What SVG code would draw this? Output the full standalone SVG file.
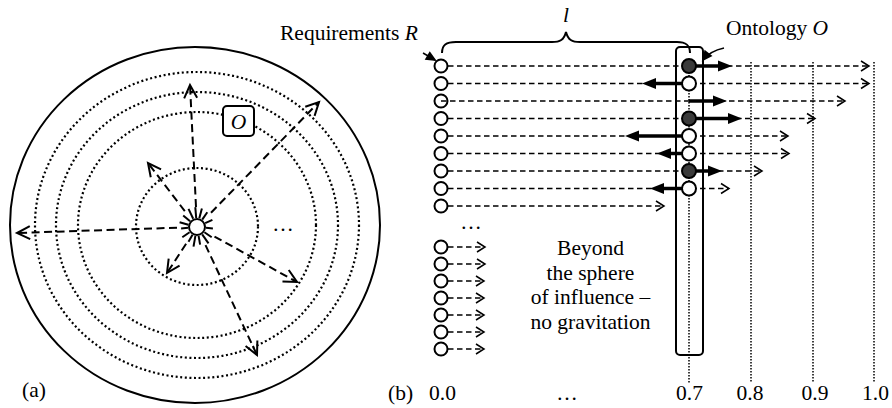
<svg xmlns="http://www.w3.org/2000/svg" width="892" height="408" viewBox="0 0 892 408" font-family="'Liberation Serif', 'Times New Roman', 'DejaVu Serif', serif">
  <style>
    text { font-family: "Liberation Serif", "Times New Roman", "DejaVu Serif", serif; font-size: 21.5px; fill: #000; }
    .it { font-style: italic; }
    .ring { fill: none; stroke: #000; stroke-width: 2.2; stroke-dasharray: 2 2.6; }
    .ray { fill: none; stroke: #000; stroke-width: 2; stroke-dasharray: 8 4.5; marker-end: url(#openL); }
    .burst line { stroke: #000; stroke-width: 2; }
    .req { fill: #fff; stroke: #000; stroke-width: 2; }
    .ont-full { fill: #3a3a3a; stroke: #000; stroke-width: 2; }
    .flow { fill: none; stroke: #000; stroke-width: 1.5; stroke-dasharray: 5.5 3.5; marker-end: url(#openS); }
    .pull { fill: none; stroke: #000; stroke-width: 3.5; marker-end: url(#solid); }
    .scale { fill: none; stroke: #000; stroke-width: 1.5; stroke-dasharray: 1.5 1.5; }
  </style>
  <defs>
    <marker id="openL" markerUnits="userSpaceOnUse" markerWidth="30" markerHeight="30" viewBox="-15 -15 30 30" refX="0" refY="0" orient="auto">
      <path d="M-13,-6.5 L0,0 L-13,6.5" fill="none" stroke="#000" stroke-width="2" stroke-dasharray="none"/>
    </marker>
    <marker id="openS" markerUnits="userSpaceOnUse" markerWidth="20" markerHeight="20" viewBox="-10 -10 20 20" refX="0" refY="0" orient="auto">
      <path d="M-8,-5 L0,0 L-8,5" fill="none" stroke="#000" stroke-width="1.5" stroke-dasharray="none"/>
    </marker>
    <marker id="solid" markerUnits="userSpaceOnUse" markerWidth="30" markerHeight="30" viewBox="-15 -15 30 30" refX="0" refY="0" orient="auto">
      <path d="M-6,-5.5 L8,0 L-6,5.5 Z" fill="#000" stroke="none"/>
    </marker>
    <marker id="tiny" markerUnits="userSpaceOnUse" markerWidth="24" markerHeight="24" viewBox="-12 -12 24 24" refX="0" refY="0" orient="auto">
      <path d="M-9,-5 L2,0 L-9,5 Z" fill="#000" stroke="none"/>
    </marker>
  </defs>

  <!-- (a) gravitation field around a requirement -->
  <g id="field">
    <ellipse cx="195" cy="225" rx="185" ry="178" fill="none" stroke="#000" stroke-width="2"/>
    <ellipse class="ring" cx="197" cy="226.5" rx="61" ry="58.5"/>
    <ellipse class="ring" cx="197" cy="225" rx="119" ry="113"/>
    <ellipse class="ring" cx="197" cy="225" rx="141" ry="133"/>
    <ellipse class="ring" cx="197" cy="225" rx="162" ry="153"/>
  </g>

  <g id="rays">
    <line class="ray" x1="196" y1="207" x2="190" y2="85"/>
    <line class="ray" x1="211" y1="212.7" x2="319" y2="102"/>
    <line class="ray" x1="184.8" y1="211.1" x2="148" y2="163"/>
    <line class="ray" x1="177" y1="227.7" x2="17" y2="233"/>
    <line class="ray" x1="186.1" y1="243.8" x2="167" y2="273"/>
    <line class="ray" x1="214.5" y1="236.6" x2="297" y2="282"/>
    <line class="ray" x1="205.5" y1="245.1" x2="257" y2="355"/>
  </g>

  <g id="centre" class="burst">
    <line x1="188.3" y1="224.7" x2="179.6" y2="222.3"/>
    <line x1="190.1" y1="221.2" x2="183.2" y2="215.4"/>
    <line x1="193.2" y1="218.8" x2="188.5" y2="208.9"/>
    <line x1="196.2" y1="218" x2="195.3" y2="207.1"/>
    <line x1="199.3" y1="218.3" x2="201.9" y2="208.6"/>
    <line x1="202.2" y1="219.6" x2="207.3" y2="212.3"/>
    <line x1="205.2" y1="223.2" x2="212.4" y2="219.8"/>
    <line x1="206" y1="227.8" x2="212.9" y2="228.4"/>
    <line x1="204.4" y1="232.2" x2="211.7" y2="237.3"/>
    <line x1="202.2" y1="234.4" x2="208.5" y2="243.4"/>
    <line x1="198.6" y1="235.9" x2="200.1" y2="244.7"/>
    <line x1="195.4" y1="235.9" x2="193.5" y2="246.7"/>
    <line x1="192.5" y1="234.8" x2="188.5" y2="241.7"/>
    <line x1="189.6" y1="232.2" x2="182.3" y2="237.3"/>
    <line x1="188" y1="227.8" x2="181.1" y2="228.4"/>
    <circle cx="197" cy="227" r="8" fill="#fff" stroke="#000" stroke-width="2"/>
  </g>

  <g id="ontology-a">
    <rect x="223" y="106" width="31" height="30" rx="4" fill="#fff" stroke="#000" stroke-width="2"/>
    <text class="it" x="238.5" y="128.5" text-anchor="middle">O</text>
  </g>
  <text x="283" y="231" text-anchor="middle">…</text>
  <text x="22" y="397">(a)</text>

  <!-- (b) requirements against the ontology -->
  <g id="scale">
    <line class="scale" x1="689" y1="60" x2="689" y2="383"/>
    <line class="scale" x1="751" y1="62" x2="751" y2="383"/>
    <line class="scale" x1="813" y1="62" x2="813" y2="383"/>
    <line class="scale" x1="874" y1="62" x2="874" y2="383"/>
  </g>

  <g id="connectors">
    <line class="flow" x1="448" y1="66" x2="869" y2="66"/>
    <line class="flow" x1="448" y1="83.5" x2="869" y2="83.5"/>
    <line class="flow" x1="441" y1="101" x2="845" y2="101"/>
    <line class="flow" x1="448" y1="118.5" x2="815" y2="118.5"/>
    <line class="flow" x1="448" y1="136" x2="788" y2="136"/>
    <line class="flow" x1="448" y1="153.5" x2="789" y2="153.5"/>
    <line class="flow" x1="448" y1="171" x2="762" y2="171"/>
    <line class="flow" x1="448" y1="188.5" x2="729" y2="188.5"/>
    <line class="flow" x1="448" y1="206" x2="664" y2="206"/>

    <line class="flow" x1="448" y1="247" x2="485" y2="247"/>
    <line class="flow" x1="448" y1="264" x2="485" y2="264"/>
    <line class="flow" x1="448" y1="281" x2="484" y2="281"/>
    <line class="flow" x1="448" y1="298" x2="484" y2="298"/>
    <line class="flow" x1="448" y1="315" x2="484" y2="315"/>
    <line class="flow" x1="448" y1="332" x2="484" y2="332"/>
    <line class="flow" x1="448" y1="349" x2="484" y2="349"/>

    <line class="pull" x1="689" y1="66" x2="724" y2="66"/>
    <line class="pull" x1="689" y1="101" x2="719" y2="101"/>
    <line class="pull" x1="689" y1="118.5" x2="734" y2="118.5"/>
    <line class="pull" x1="689" y1="171" x2="714" y2="171"/>
    <line class="pull" x1="689" y1="83.5" x2="650" y2="83.5"/>
    <line class="pull" x1="689" y1="136" x2="633" y2="136"/>
    <line class="pull" x1="689" y1="153.5" x2="665" y2="153.5"/>
    <line class="pull" x1="689" y1="188.5" x2="658" y2="188.5"/>
  </g>

  <g id="requirements">
    <circle class="req" cx="441" cy="66" r="6.5"/>
    <circle class="req" cx="441" cy="83.5" r="6.5"/>
    <circle class="req" cx="441" cy="101" r="6.5" style="fill:none"/>
    <circle class="req" cx="441" cy="118.5" r="6.5"/>
    <circle class="req" cx="441" cy="136" r="6.5"/>
    <circle class="req" cx="441" cy="153.5" r="6.5"/>
    <circle class="req" cx="441" cy="171" r="6.5"/>
    <circle class="req" cx="441" cy="188.5" r="6.5"/>
    <circle class="req" cx="441" cy="206" r="6.5"/>
    <text x="471" y="229" text-anchor="middle">…</text>
    <circle class="req" cx="441" cy="247" r="6.5"/>
    <circle class="req" cx="441" cy="264" r="6.5"/>
    <circle class="req" cx="441" cy="281" r="6.5"/>
    <circle class="req" cx="441" cy="298" r="6.5"/>
    <circle class="req" cx="441" cy="315" r="6.5"/>
    <circle class="req" cx="441" cy="332" r="6.5"/>
    <circle class="req" cx="441" cy="349" r="6.5"/>
  </g>

  <g id="ontology-b">
    <rect x="676" y="47" width="27" height="308" rx="4" fill="none" stroke="#000" stroke-width="2"/>
    <circle class="ont-full" cx="689" cy="66" r="7"/>
    <circle class="req" cx="689" cy="83.5" r="7"/>
    <circle class="ont-full" cx="689" cy="118.5" r="7"/>
    <circle class="req" cx="689" cy="136" r="7"/>
    <circle class="req" cx="689" cy="153.5" r="7"/>
    <circle class="ont-full" cx="689" cy="171" r="7"/>
    <circle class="req" cx="689" cy="188.5" r="7"/>
  </g>

  <g id="pointers">
    <line x1="423" y1="53" x2="435" y2="60" stroke="#000" stroke-width="1.5" marker-end="url(#tiny)"/>
    <path d="M724,48 Q710,51 703,60" fill="none" stroke="#000" stroke-width="1.5" marker-end="url(#tiny)"/>
  </g>

  <g id="brace">
    <path d="M442,53 C442,45 446,42 456,42 L552,42 C560,42 564,40 566,32 C568,40 572,42 580,42 L677,42 C686,42 690,45 690,53" fill="none" stroke="#000" stroke-width="2"/>
    <text class="it" x="566" y="22" text-anchor="middle">l</text>
  </g>

  <g id="labels">
    <text x="280" y="40">Requirements <tspan class="it">R</tspan></text>
    <text x="726" y="35">Ontology <tspan class="it">O</tspan></text>
    <text x="590.5" y="255" text-anchor="middle">Beyond</text>
    <text x="590.5" y="280" text-anchor="middle">the sphere</text>
    <text x="590.5" y="304" text-anchor="middle">of influence –</text>
    <text x="590.5" y="329" text-anchor="middle">no gravitation</text>
    <text x="388" y="400">(b)</text>
    <text x="442.5" y="400" text-anchor="middle">0.0</text>
    <text x="567" y="400" text-anchor="middle">…</text>
    <text x="689.5" y="400" text-anchor="middle">0.7</text>
    <text x="750" y="400" text-anchor="middle">0.8</text>
    <text x="815" y="400" text-anchor="middle">0.9</text>
    <text x="875.5" y="400" text-anchor="middle">1.0</text>
  </g>
</svg>
